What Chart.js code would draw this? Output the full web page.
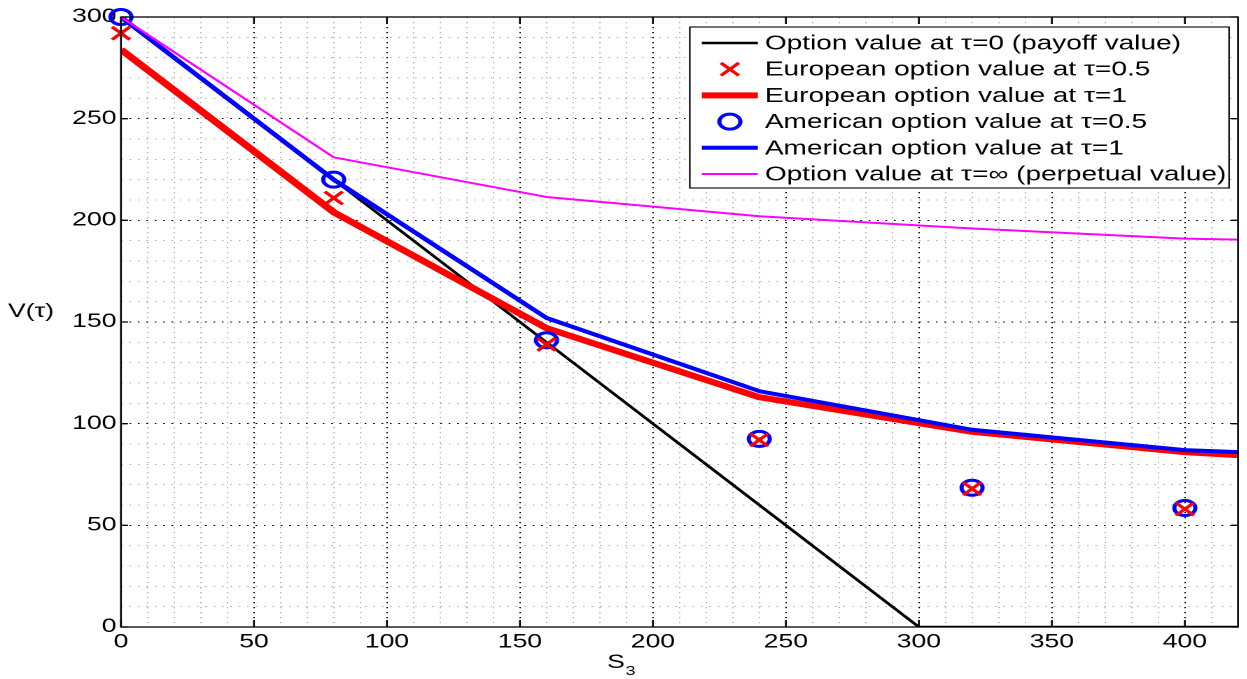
<!DOCTYPE html>
<html>
<head>
<meta charset="utf-8">
<script src="https://cdn.jsdelivr.net/npm/chart.js@4.4.1/dist/chart.umd.min.js"></script>
<style>
  html, body { margin: 0; padding: 0; background: #fff; overflow: hidden; }
  /* the figure is drawn narrow and widened horizontally */
  #wrap { position: absolute; left: 0; top: 0; width: 891px; height: 679px;
          transform: scaleX(1.4); transform-origin: 0 0; }
  #c { display: block; width: 891px; height: 679px; }
</style>
</head>
<body>
<div id="wrap"><canvas id="c" width="891" height="679"></canvas></div>
<script>
// ---- data ----
const payoffS   = [0, 80, 160, 240, 300, 320, 400, 420];
const payoffV   = [300, 220, 140, 60, 0, 0, 0, 0];
const markerS   = [0, 80, 160, 240, 320, 400];
const curveS    = [0, 80, 160, 240, 320, 400, 420];
const euroHalf  = [292, 211, 139, 92, 68, 58];
const euroOne   = [284, 204, 147, 113, 96, 86, 84.5];
const amerHalf  = [300, 220, 141, 92.5, 68.5, 58.5];
const amerOne   = [300, 220, 152, 116, 97, 87, 86];
const perpetual = [300, 231, 211.5, 202, 196, 191, 190.5];

const seriesNames = [
  'Option value at \u03C4=0 (payoff value)',
  'European option value at \u03C4=0.5',
  'European option value at \u03C4=1',
  'American option value at \u03C4=0.5',
  'American option value at \u03C4=1',
  'Option value at \u03C4=\u221E (perpetual value)'
];
const xMajor = [0, 50, 100, 150, 200, 250, 300, 350, 400];
const yMajor = [0, 50, 100, 150, 200, 250, 300];
const xLabel = 'S';
const xLabelSub = '3';
const yLabel = 'V(\u03C4)';

const FONT = '"Liberation Sans", Arial, Helvetica, sans-serif';

const pts = (xs, ys) => ys.map((v, i) => ({ x: xs[i], y: v }));

Chart.defaults.color = '#000';
Chart.defaults.font.family = FONT;

// axes box and inward tick marks
const framePlugin = {
  id: 'frame',
  afterDatasetsDraw(chart) {
    const { ctx, chartArea: a, scales: { x, y } } = chart;
    ctx.save();
    ctx.strokeStyle = '#000';
    ctx.lineWidth = 1.3;
    ctx.strokeRect(a.left, a.top, a.right - a.left, a.bottom - a.top);
    ctx.beginPath();
    xMajor.forEach(v => {
      const p = x.getPixelForValue(v);
      ctx.moveTo(p, a.bottom); ctx.lineTo(p, a.bottom - 7);
      ctx.moveTo(p, a.top); ctx.lineTo(p, a.top + 7);
    });
    yMajor.forEach(v => {
      const p = y.getPixelForValue(v);
      ctx.moveTo(a.left, p); ctx.lineTo(a.left + 5, p);
      ctx.moveTo(a.right, p); ctx.lineTo(a.right - 5, p);
    });
    ctx.stroke();
    ctx.restore();
  }
};

// boxed legend in the upper right corner of the axes
const legendPlugin = {
  id: 'boxLegend',
  afterDatasetsDraw(chart) {
    const { ctx, chartArea: a } = chart;
    const ds = chart.data.datasets;
    ctx.save();
    ctx.font = '20px ' + FONT;
    const maxW = Math.max(...ds.map(d => ctx.measureText(d.label).width));
    const right = a.right - 6.4;
    const textOff = 53.6;
    const left = right - textOff - maxW - 2;
    const top = 27, bottom = 188, rowH = 26.2, firstRow = 43;
    ctx.fillStyle = '#fff';
    ctx.fillRect(left, top, right - left, bottom - top);
    ctx.strokeStyle = '#000';
    ctx.lineWidth = 1.1;
    ctx.strokeRect(left, top, right - left, bottom - top);
    ds.forEach((d, i) => {
      const cy = firstRow + i * rowH;
      const x0 = left + 8.6, x1 = left + 48.6, cx = (x0 + x1) / 2;
      ctx.strokeStyle = d.borderColor;
      if (d.showLine) {
        ctx.lineWidth = d.borderWidth;
        ctx.beginPath(); ctx.moveTo(x0, cy); ctx.lineTo(x1, cy); ctx.stroke();
      } else if (d.pointStyle === 'crossRot') {
        const r = d.pointRadius * 0.707;
        ctx.lineWidth = d.pointBorderWidth;
        ctx.beginPath();
        ctx.moveTo(cx - r, cy - r); ctx.lineTo(cx + r, cy + r);
        ctx.moveTo(cx + r, cy - r); ctx.lineTo(cx - r, cy + r);
        ctx.stroke();
      } else {
        ctx.lineWidth = d.pointBorderWidth;
        ctx.beginPath(); ctx.arc(cx, cy, d.pointRadius, 0, Math.PI * 2); ctx.stroke();
      }
      ctx.fillStyle = '#000';
      ctx.textAlign = 'left';
      ctx.textBaseline = 'middle';
      ctx.fillText(d.label, left + textOff, cy + 1);
    });
    ctx.restore();
  }
};

// axis titles: upright V(τ) on the left, S with subscript 3 below
const titlePlugin = {
  id: 'axisTitles',
  afterDraw(chart) {
    const { ctx } = chart;
    ctx.save();
    ctx.fillStyle = '#000';
    ctx.textAlign = 'left';
    ctx.textBaseline = 'middle';
    ctx.font = '19px ' + FONT;
    ctx.fillText(yLabel, 5.7, 312);
    ctx.textBaseline = 'alphabetic';
    ctx.fillText(xLabel, 433.6, 668);
    const sw = ctx.measureText(xLabel).width;
    ctx.font = '13px ' + FONT;
    ctx.fillText(xLabelSub, 433.6 + sw + 0.5, 675);
    ctx.restore();
  }
};

const lineSet = (label, xs, ys, color, width, order) => ({
  label, data: pts(xs, ys), showLine: true, borderColor: color, backgroundColor: color,
  borderWidth: width, pointRadius: 0, pointHoverRadius: 0, tension: 0, order,
  borderJoinStyle: 'round', borderCapStyle: 'butt'
});
const markSet = (label, xs, ys, color, style, radius, width, order) => ({
  label, data: pts(xs, ys), showLine: false, borderColor: color, backgroundColor: 'rgba(0,0,0,0)',
  pointStyle: style, pointRadius: radius, pointBorderWidth: width, pointHoverRadius: radius,
  pointBorderColor: color, pointBackgroundColor: 'rgba(0,0,0,0)', order, clip: false
});

const datasets = [
  lineSet(seriesNames[0], payoffS, payoffV, '#000000', 2.4, 7),
  markSet(seriesNames[1], markerS, euroHalf, '#ff0000', 'crossRot', 9, 2.8, 3),
  lineSet(seriesNames[2], curveS, euroOne, '#ff0000', 6, 6),
  markSet(seriesNames[3], markerS, amerHalf, '#0000ff', 'circle', 7.5, 3, 5),
  lineSet(seriesNames[4], curveS, amerOne, '#0000ff', 4, 4),
  lineSet(seriesNames[5], curveS, perpetual, '#ff00ff', 2, 2)
];

const isMajor = v => v % 50 === 0;

new Chart(document.getElementById('c'), {
  type: 'scatter',
  data: { datasets },
  options: {
    responsive: false,
    animation: false,
    devicePixelRatio: 2,
    events: [],
    layout: { autoPadding: false, padding: { left: 0, right: 6.7, top: 17, bottom: 0 } },
    plugins: { legend: { display: false }, tooltip: { enabled: false } },
    scales: {
      x: {
        type: 'linear', min: 0, max: 420,
        afterFit: s => { s.height = 52; s.paddingLeft = 0; s.paddingRight = 0; },
        ticks: {
          stepSize: 10, autoSkip: false, maxRotation: 0, padding: 4,
          font: { size: 19, family: FONT }, color: '#000',
          callback: v => xMajor.includes(v) ? String(v) : ''
        },
        grid: {
          drawTicks: false,
          color: c => isMajor(c.tick.value) ? '#000000' : '#b4b4b4',
          lineWidth: c => (c.tick.value === 0 || c.tick.value === 420) ? 0 : 1
        },
        border: { display: false, dash: [1.2, 3.8] }
      },
      y: {
        type: 'linear', min: 0, max: 300,
        afterFit: s => { s.width = 86.4; s.paddingTop = 0; s.paddingBottom = 0; },
        ticks: {
          stepSize: 10, autoSkip: false, padding: 3.2,
          font: { size: 19, family: FONT }, color: '#000',
          callback: v => yMajor.includes(v) ? String(v) : ''
        },
        grid: {
          drawTicks: false,
          color: c => isMajor(c.tick.value) ? '#000000' : '#b4b4b4',
          lineWidth: c => (c.tick.value === 0 || c.tick.value === 300) ? 0 : 1
        },
        border: { display: false, dash: [1.2, 4.8] }
      }
    }
  },
  plugins: [framePlugin, legendPlugin, titlePlugin]
});
</script>
</body>
</html>
